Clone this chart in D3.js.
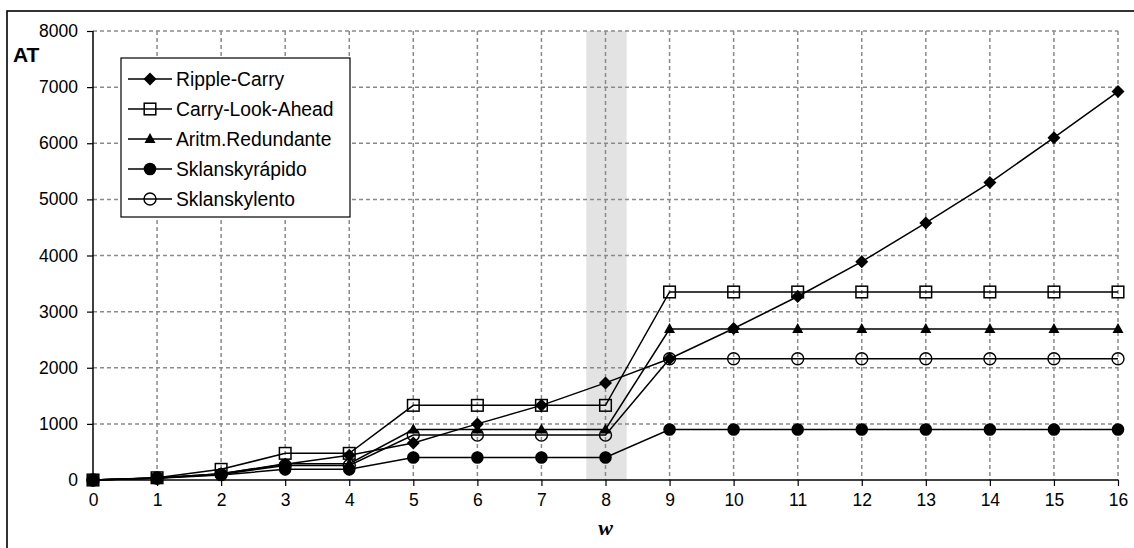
<!DOCTYPE html>
<html>
<head>
<meta charset="utf-8">
<script src="https://cdn.jsdelivr.net/npm/d3@7"></script>
<style>
  html, body { margin: 0; padding: 0; background: #fff; }
  svg { display: block; }
  text { font-family: "Liberation Sans", Arial, sans-serif; fill: #000; }
</style>
</head>
<body>
<svg id="chart" width="1134" height="548"></svg>
<script>
// Word length w (bits) on the horizontal axis
const widths = [0, 1, 2, 3, 4, 5, 6, 7, 8, 9, 10, 11, 12, 13, 14, 15, 16];

// Area-time cost (AT) of each adder design
const rippleCarry    = [0, 35, 110, 280, 440, 660, 1000, 1330, 1730, 2160, 2700, 3270, 3890, 4580, 5300, 6100, 6920];
const carryLookAhead = [0, 40, 190, 475, 475, 1330, 1330, 1330, 1330, 3350, 3350, 3350, 3350, 3350, 3350, 3350, 3350];
const aritmRedund    = [0, 35, 110, 290, 290, 900, 900, 900, 900, 2690, 2690, 2690, 2690, 2690, 2690, 2690, 2690];
const sklanskyRapido = [0, 30, 90, 190, 190, 400, 400, 400, 400, 900, 900, 900, 900, 900, 900, 900, 900];
const sklanskyLento  = [0, 35, 100, 260, 260, 800, 800, 800, 800, 2160, 2160, 2160, 2160, 2160, 2160, 2160, 2160];

const seriesNames = ["Ripple-Carry", "Carry-Look-Ahead", "Aritm.Redundante", "Sklanskyrápido", "Sklanskylento"];
const yTicks = [0, 1000, 2000, 3000, 4000, 5000, 6000, 7000, 8000];
const highlightW = 8;   // shaded column

const series = [
  { name: seriesNames[0], values: rippleCarry,    marker: "diamond" },
  { name: seriesNames[1], values: carryLookAhead, marker: "square" },
  { name: seriesNames[2], values: aritmRedund,    marker: "triangle" },
  { name: seriesNames[3], values: sklanskyRapido, marker: "dot" },
  { name: seriesNames[4], values: sklanskyLento,  marker: "ring" }
];

const svg = d3.select("#chart");
const plot = { left: 93, right: 1118, top: 31, bottom: 480 };

const x = d3.scaleLinear().domain([0, 16]).range([plot.left, plot.right]);
const y = d3.scaleLinear().domain([0, 8000]).range([plot.bottom, plot.top]);

// Outer frame of the chart area
svg.append("rect")
  .attr("x", 7).attr("y", 11).attr("width", 1200).attr("height", 700)
  .attr("fill", "#fff").attr("stroke", "#000").attr("stroke-width", 1.6);

// Shaded column around w = 8
svg.append("rect")
  .attr("x", x(highlightW - 0.3)).attr("y", plot.top)
  .attr("width", x(highlightW + 0.33) - x(highlightW - 0.3))
  .attr("height", plot.bottom - plot.top)
  .attr("fill", "#e3e3e3");

// Dashed grid
const grid = svg.append("g")
  .attr("stroke", "#8a8a8a").attr("stroke-width", 1.5).attr("stroke-dasharray", "4,3");
grid.selectAll("line.h").data(yTicks.filter(d => d > 0)).join("line")
  .attr("x1", plot.left).attr("x2", plot.right)
  .attr("y1", d => y(d)).attr("y2", d => y(d));
grid.selectAll("line.v").data(widths.filter(d => d > 0)).join("line")
  .attr("x1", d => x(d)).attr("x2", d => x(d))
  .attr("y1", plot.top).attr("y2", plot.bottom);

// Axes
const xAxis = d3.axisBottom(x).tickValues(widths).tickSize(6).tickPadding(8).tickFormat(d3.format("d"));
const gx = svg.append("g").attr("transform", `translate(0,${plot.bottom})`).call(xAxis);
const yAxis = d3.axisLeft(y).tickValues(yTicks).tickSize(6).tickPadding(9).tickFormat(d3.format("d"));
const gy = svg.append("g").attr("transform", `translate(${plot.left},0)`).call(yAxis);
[gx, gy].forEach(g => {
  g.select(".domain").attr("stroke", "#000").attr("stroke-width", 1.5);
  g.selectAll(".tick line").attr("stroke", "#000").attr("stroke-width", 1.2);
  g.selectAll(".tick text").attr("font-size", 17.5).attr("font-family", "Liberation Sans, Arial, sans-serif");
});
gx.select(".domain").attr("d", `M${plot.left},0H${plot.right}`);
gy.select(".domain").attr("d", `M0,${plot.bottom}V${plot.top}`);

// Axis titles
svg.append("text").attr("x", 13).attr("y", 62)
  .attr("font-size", 21).attr("font-weight", "bold").text("AT");
svg.append("text").attr("x", x(8)).attr("y", 535).attr("text-anchor", "middle")
  .style("font-family", "Liberation Serif, Times New Roman, serif")
  .attr("font-size", 22).attr("font-style", "italic").attr("font-weight", "bold").text("w");

// Marker shapes
function drawMarker(sel, kind) {
  if (kind === "diamond") {
    sel.append("path").attr("d", "M0,-6.5L6.5,0L0,6.5L-6.5,0Z").attr("fill", "#000");
  } else if (kind === "square") {
    sel.append("rect").attr("x", -5.8).attr("y", -5.8).attr("width", 11.6).attr("height", 11.6)
      .attr("fill", "none").attr("stroke", "#000").attr("stroke-width", 1.5);
  } else if (kind === "triangle") {
    sel.append("path").attr("d", "M0,-6L5.5,4L-5.5,4Z").attr("fill", "#000");
  } else if (kind === "dot") {
    sel.append("circle").attr("r", 6.3).attr("fill", "#000");
  } else if (kind === "ring") {
    sel.append("circle").attr("r", 6).attr("fill", "none").attr("stroke", "#000").attr("stroke-width", 1.4);
  }
}

const line = d3.line().x((d, i) => x(widths[i])).y(d => y(d));

series.forEach(s => {
  svg.append("path").datum(s.values)
    .attr("d", line).attr("fill", "none").attr("stroke", "#000").attr("stroke-width", 1.5);
  svg.append("g").selectAll("g").data(s.values).join("g")
    .attr("transform", (d, i) => `translate(${x(widths[i])},${y(d)})`)
    .each(function () { drawMarker(d3.select(this), s.marker); });
});

// Legend
const legend = svg.append("g");
legend.append("rect").attr("x", 121).attr("y", 58).attr("width", 229).attr("height", 159)
  .attr("fill", "#fff").attr("stroke", "#000").attr("stroke-width", 1.2);
series.forEach((s, i) => {
  const ly = 79 + i * 30;
  const g = legend.append("g");
  g.append("line").attr("x1", 128).attr("x2", 172).attr("y1", ly).attr("y2", ly)
    .attr("stroke", "#000").attr("stroke-width", 1.5);
  drawMarker(g.append("g").attr("transform", `translate(150,${ly})`), s.marker);
  g.append("text").attr("x", 176).attr("y", ly).attr("dy", "0.35em")
    .attr("font-size", 19.3).text(s.name);
});
</script>
</body>
</html>
